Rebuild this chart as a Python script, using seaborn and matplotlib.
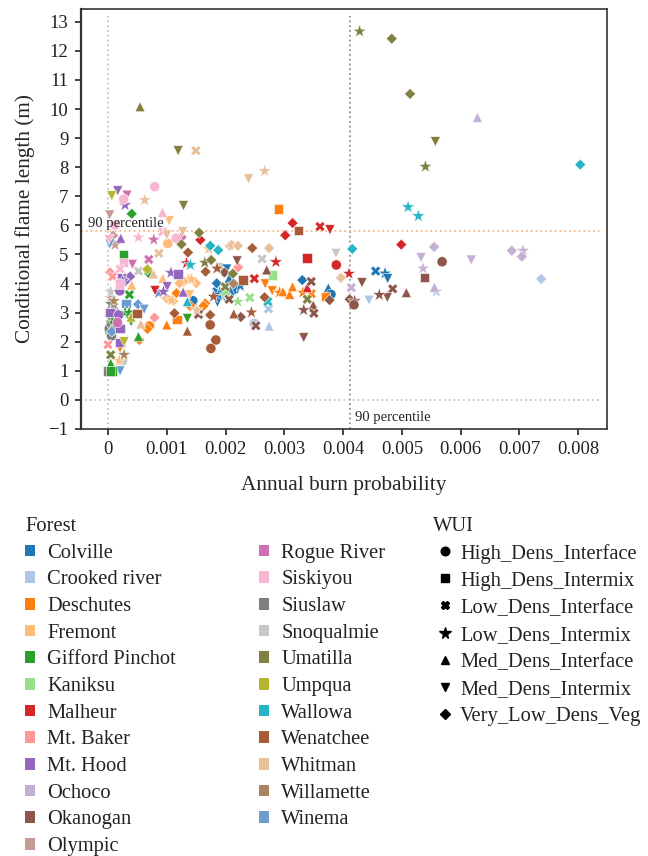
import matplotlib
matplotlib.use("Agg")
import matplotlib.pyplot as plt
from matplotlib.lines import Line2D
from matplotlib.patches import Patch
import pandas as pd
import seaborn as sns

forest_names = ["Colville", "Crooked river", "Deschutes", "Fremont", "Gifford Pinchot", "Kaniksu",
                "Malheur", "Mt. Baker", "Mt. Hood", "Ochoco", "Okanogan", "Olympic",
                "Rogue River", "Siskiyou", "Siuslaw", "Snoqualmie", "Umatilla", "Umpqua",
                "Wallowa", "Wenatchee", "Whitman", "Willamette", "Winema"]
forest_colors = ["#1f77b4", "#aec7e8", "#ff7f0e", "#ffbb78", "#2ca02c", "#98df8a",
                 "#d62728", "#ff9896", "#9467bd", "#c5b0d5", "#8c564b", "#c49c94",
                 "#d070b0", "#f7b6d2", "#7f7f7f", "#c7c7c7", "#808040", "#b5b82e",
                 "#26b5c6", "#a65c38", "#e8c09a", "#a88460", "#6b9bcf"]
wui_names = ["High_Dens_Interface", "High_Dens_Intermix", "Low_Dens_Interface", "Low_Dens_Intermix",
             "Med_Dens_Interface", "Med_Dens_Intermix", "Very_Low_Dens_Veg"]
wui_markers = ["o", "s", "X", "*", "^", "v", "D"]
wui_sizes = [54, 46, 54, 105, 52, 52, 32]
legend_marker_sizes = [6.2, 6.2, 6.2, 8.5, 6, 6, 5]
code = dict(zip("osX*^vD", wui_names))

# each entry: (WUI marker code, burn probability x 1000, flame length m)
colville = [("X",4.554,4.43),("*",4.713,4.35),("v",4.758,4.17),("D",3.305,4.12),("^",3.748,3.85),
            ("o",3.793,3.63),("D",1.85,4.01),("X",1.85,3.72),("*",1.936,3.57),
            ("v",1.862,3.36),("o",2.152,3.81),("^",2.06,4.18),("*",2.25,3.92),("^",2.08,3.76),
            ("v",2.02,4.5),("o",1.443,3.41),("*",1.88,3.61),("v",1.96,3.62)]
crooked = [("D",7.37,4.16),("*",5.587,3.73),("v",4.44,3.43),("X",2.73,3.13),("^",2.74,2.54),("o",2.487,2.63)]
deschutes = [("s",2.896,6.56),("v",2.675,3.99),("v",2.794,3.75),("*",2.918,3.69),("^",2.975,3.72),
             ("^",3.09,3.63),("^",3.14,3.89),("*",3.316,3.69),("X",3.458,3.65),("s",3.696,3.55),
             ("D",1.164,3.67),("D",1.397,3.23),("D",1.653,3.32),("D",1.625,3.23),("s",1.17,2.77),
             ("^",1.0,2.58),("o",0.705,2.54),("D",0.67,2.44),("D",0.534,2.06),("v",0.205,1.78)]
fremont = [("v",1.04,6.16),("o",1.017,5.38),("*",1.715,5.19),("^",0.932,4.18),("D",1.5,4.01),
           ("*",1.369,4.15),("D",1.284,4.07),("D",1.216,4.01),("*",1.42,4.15),("D",1.0,3.49),
           ("D",1.113,3.40),("*",1.08,3.42),("v",1.386,3.61),("^",0.403,3.95),("*",0.19,1.35)]
gifford = [("D",0.403,6.40),("s",0.262,4.98),("D",0.70,4.35),("X",0.364,3.62),("*",0.29,3.0),
           ("v",0.392,2.69),("^",0.517,2.18),("^",0.046,1.26),("s",0.08,1.0),("s",0.04,1.0),
           ("v",1.35,2.8),("X",0.1,2.75),("*",0.36,3.0)]
kaniksu = [("s",2.794,4.30),("X",2.413,3.52),("*",2.209,3.38),("D",2.0,3.65)]
malheur = [("D",3.14,6.08),("X",3.606,5.96),("v",3.776,5.85),("D",3.015,5.66),("D",1.57,5.50),
           ("*",1.335,4.70),("*",2.856,4.74),("s",3.384,4.88),("o",3.884,4.64),("*",4.10,4.34),
           ("X",2.49,4.17),("^",3.39,3.86),("D",4.99,5.34),("v",0.8,3.76)]
mtbaker = [("D",0.035,4.39),("X",0.08,4.24),("D",2.214,4.56),("D",0.79,2.83),("X",0.0,1.9),("s",0.05,3.0)]
mthood = [("v",0.165,7.19),("*",0.29,6.70),("^",0.216,5.56),("*",1.07,4.37),("s",1.187,4.33),
          ("D",0.375,4.24),("s",0.233,4.21),("D",0.29,4.07),("*",0.25,4.09),("o",0.2,3.75),
          ("v",1.005,3.89),("*",0.943,3.72),("^",1.278,3.71),("s",0.035,3.0),("o",0.182,2.92),
          ("s",0.205,2.46),("s",0.205,1.98)]
ochoco = [("^",6.286,9.71),("D",5.548,5.26),("D",6.87,5.13),("*",7.06,5.13),("D",7.04,4.93),
          ("v",5.326,4.89),("v",6.18,4.81),("*",5.36,4.52),("^",5.553,3.87),("X",4.139,3.86)]
okanogan = [("o",5.684,4.75),("s",5.383,4.2),("^",5.076,3.69),("X",4.844,3.82),("v",4.753,3.52),
            ("*",4.616,3.61),("v",4.321,4.03),("v",2.197,4.78),("^",2.70,4.47),("X",3.458,4.07),
            ("*",3.33,3.09),("^",3.492,3.26),("X",3.503,2.98),("v",3.33,2.14),("D",4.111,3.46),
            ("*",4.196,3.40),("o",4.185,3.27),("D",2.26,2.85),("X",2.515,2.55),("X",2.06,3.46),
            ("*",1.85,4.52),("D",1.98,4.38),("X",1.54,2.94),("D",3.77,3.43)]
olympic = [("v",0.029,6.36),("D",0.085,5.65),("*",0.12,5.33),("*",0.04,3.5),("*",0.08,3.1)]
rogue = [("v",0.324,7.04),("*",0.778,5.51),("D",1.25,5.59),("v",0.415,4.66),("X",0.693,4.83),("o",0.16,2.66)]
siskiyou = [("o",0.795,7.33),("o",0.267,6.90),("^",0.926,6.45),("o",0.12,6.01),("*",0.517,5.59),
            ("v",0.017,5.52),("X",0.932,5.78),("o",1.16,5.56),("s",0.267,4.73),("X",0.205,4.50),("s",0.2,3.99)]
siuslaw = [("s",0.0,1.0),("o",0.035,2.52),("o",0.03,2.35),("o",0.06,2.2),("D",0.05,2.7),("X",0.1,3.2),
           ("o",0.02,2.45),("*",0.05,3.3),("o",0.06,2.6),("o",0.09,2.4),("D",0.03,2.9)]
snoqualmie = [("o",1.91,4.56),("X",0.517,4.43),("*",0.046,3.72),("o",0.245,1.34),("X",2.62,4.85),("v",3.878,5.04)]
umatilla = [("^",0.545,10.08),("v",1.193,8.57),("v",1.284,6.68),("D",1.55,5.75),("D",1.25,5.35),
            ("*",1.647,4.72),("D",1.755,4.81),("D",2.123,4.34),("X",1.993,3.89),("X",3.39,3.46),
            ("*",4.281,12.67),("D",4.827,12.42),("D",5.139,10.52),("v",5.57,8.88),("*",5.40,8.02),
            ("X",0.046,1.55)]
umpqua = [("v",0.063,7.02),("D",0.67,4.49),("^",0.392,2.85),("v",0.273,2.0)]
wallowa = [("D",1.74,5.30),("D",1.875,5.15),("*",1.4,4.64),("^",1.35,3.38),("D",4.156,5.19),
           ("X",2.72,3.38),("D",8.035,8.09),("*",5.105,6.63),("*",5.28,6.32)]
wenatchee = [("D",1.36,5.07),("D",1.66,4.41),("*",1.857,4.52),("s",2.30,4.12),("D",2.453,5.22),
             ("s",3.236,5.82),("s",0.494,2.98),("D",1.738,2.92),("o",1.738,2.58),("o",1.835,2.06),
             ("o",1.75,1.77),("D",1.13,2.98),("^",1.35,2.37),("^",2.14,2.96),("*",2.44,3.01),
             ("*",1.794,3.55),("D",2.663,3.53)]
whitman = [("*",0.625,6.87),("X",0.864,5.04),("v",1.0,5.67),("v",1.27,5.78),("D",2.07,5.30),
           ("^",0.773,4.33),("*",1.51,3.09),("^",0.56,2.61),("X",1.494,8.57),("v",2.391,7.6),
           ("*",2.664,7.87),("D",2.106,5.33),("D",2.21,5.30),("D",2.74,5.22),("D",3.963,4.2)]
willamette = [("*",0.273,1.55),("D",2.135,4.0),("*",0.1,3.4)]
winema = [("v",0.03,5.36),("*",0.858,3.67),("D",0.51,3.29),("v",0.614,3.12),("s",0.307,3.32),
          ("D",0.063,2.35),("v",0.205,1.0)]
groups = [colville, crooked, deschutes, fremont, gifford, kaniksu, malheur, mtbaker, mthood, ochoco,
          okanogan, olympic, rogue, siskiyou, siuslaw, snoqualmie, umatilla, umpqua, wallowa,
          wenatchee, whitman, willamette, winema]
# forests painted first, underneath the others, as they appear in the crowded left cluster
underneath = ["Siuslaw", "Winema", "Snoqualmie", "Olympic"]

x_ticks = [0, 0.001, 0.002, 0.003, 0.004, 0.005, 0.006, 0.007, 0.008]
x_labels = ["0", "0.001", "0.002", "0.003", "0.004", "0.005", "0.006", "0.007", "0.008"]
y_ticks = list(range(-1, 14))
x_p90 = 0.00411
y_p90 = 5.82

rows = [(f, code[w], x / 1000, y) for f, g in zip(forest_names, groups) for w, x, y in g]
df = pd.DataFrame(rows, columns=["Forest", "WUI", "Annual burn probability", "Conditional flame length (m)"])
df["_first"] = ~df["Forest"].isin(underneath)
df = df.sort_values("_first", kind="stable")

sns.set_theme(style="white")
serif = ["Liberation Serif", "DejaVu Serif"]
plt.rcParams["font.family"] = serif
plt.rcParams["text.color"] = "#222222"

fig = plt.figure(figsize=(6.48, 8.56), dpi=100)
W, H = 648, 856
ax = fig.add_axes([81 / W, 1 - 429 / H, (607 - 81) / W, (429 - 9) / H])

sns.scatterplot(data=df, x="Annual burn probability", y="Conditional flame length (m)",
                hue="Forest", style="WUI", size="WUI", hue_order=forest_names, style_order=wui_names,
                size_order=wui_names, sizes=dict(zip(wui_names, wui_sizes)),
                palette=forest_colors, markers=dict(zip(wui_names, wui_markers)),
                linewidth=0.4, edgecolor="white", legend=False, ax=ax, zorder=3)

ax.set_xlim(-0.00046, 0.00849)
ax.set_ylim(-1, 13.44)
ax.plot([0, 0], [-1, 13.2], ls=":", color="#c4c4c4", lw=1.3, zorder=1)
ax.plot([x_p90, x_p90], [-1, 13.2], ls=":", color="#909090", lw=1.3, zorder=1)
ax.plot([-0.00046, 0.0084], [y_p90, y_p90], ls=":", color="#f5b98a", lw=1.3, zorder=1)
ax.plot([-0.0004, 0.0084], [0, 0], ls=":", color="#c4c4c4", lw=1.3, zorder=1)
ax.text(-0.00034, 6.05, "90 percentile", fontsize=10.5, va="center", ha="left", zorder=4)
ax.text(0.00420, -0.62, "90 percentile", fontsize=10.5, va="center", ha="left", zorder=4)

ax.set_xticks(x_ticks, x_labels)
ax.set_yticks(y_ticks)
ax.tick_params(axis="both", direction="out", length=4.5, width=1.1, color="#111111",
               labelsize=13.5, labelcolor="#222222", bottom=True, left=True, pad=4.5)
ax.set_xlabel("Annual burn probability", fontsize=15.3, labelpad=12.5)
ax.set_ylabel("Conditional flame length (m)", fontsize=15.3, labelpad=9.5)
for side in ax.spines:
    ax.spines[side].set_visible(True)
    ax.spines[side].set_color("#333333")
    ax.spines[side].set_linewidth(1.2)
ax.spines["left"].set_linewidth(1.6)

forest_handles = [Patch(facecolor=c, edgecolor="none") for c in forest_colors]
leg1 = fig.legend(forest_handles, forest_names, title="Forest", ncol=2, loc="upper left",
                  bbox_to_anchor=(25 / W, 1 - 517 / H), frameon=False, fontsize=14.8,
                  title_fontsize=14.8, alignment="left", handlelength=0.5, handleheight=0.5,
                  handletextpad=0.58, labelspacing=0.373, columnspacing=4.05, borderpad=0,
                  borderaxespad=0)
wui_handles = [Line2D([], [], ls="", marker=m, color="black", markersize=z)
               for m, z in zip(wui_markers, legend_marker_sizes)]
leg2 = fig.legend(wui_handles, wui_names, title="WUI", loc="upper left",
                  bbox_to_anchor=(433 / W, 1 - 517 / H), frameon=False, fontsize=14.8,
                  title_fontsize=14.8, alignment="left", handlelength=1.17, handletextpad=0.15,
                  labelspacing=0.373, borderpad=0, borderaxespad=0)

fig.savefig("out.png", dpi=100)
